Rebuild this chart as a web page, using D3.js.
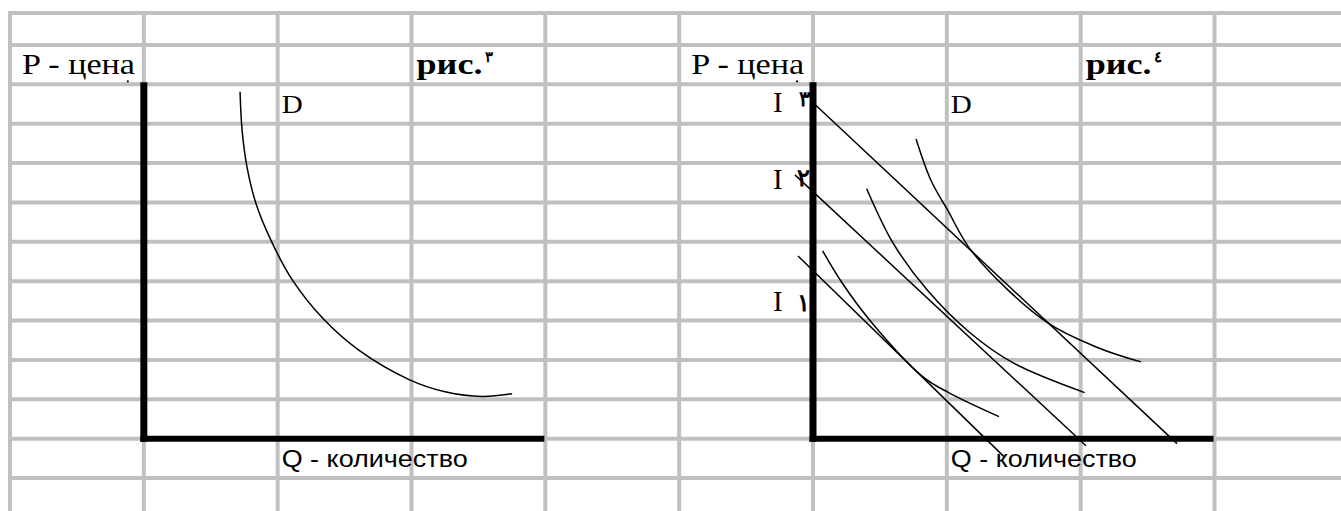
<!DOCTYPE html>
<html>
<head>
<meta charset="utf-8">
<style>
  body { margin: 0; background: #fff; }
  svg { display: block; }
  .serif { font-family: "Liberation Serif", "Times New Roman", serif; }
  .sans { font-family: "Liberation Sans", Arial, sans-serif; }
</style>
</head>
<body>
<svg width="1341" height="511"></svg>
<script src="https://d3js.org/d3.v7.min.js"></script>
<script>
// ---- data (Q in grid columns from the axis, P in grid rows above the axis) ----
const figTitles = ["рис.", "рис."];
const figNumbers = ["٣", "٤"];
const axisLabelP = "P - цена";
const axisLabelQ = "Q - количество";
const curveLabel = "D";
const incomeNames = ["I", "I", "I"];
const incomeDigits = ["١", "٢", "٣"];

// fig. 3: single demand curve
const demandCurve = [[0.719, 8.81], [0.734, 7.84], [0.771, 6.90], [0.839, 5.96], [0.951, 5.03],
  [1.108, 4.04], [1.339, 3.05], [1.601, 2.26], [1.982, 1.50], [2.251, 1.19], [2.528, 1.07], [2.752, 1.14]];

// fig. 4: budget lines I1..I3 and three curves
const budgetLines = [
  [[-0.112, 4.64], [1.427, -0.457]],
  [[-0.135, 6.70], [2.04, -0.18]],
  [[0.011, 8.50], [2.72, -0.127]]
];
const curves4 = [
  [[0.072, 4.77], [0.217, 3.96], [0.441, 2.94], [0.822, 1.57], [1.013, 1.17], [1.39, 0.56]],
  [[0.401, 6.35], [0.598, 4.97], [0.852, 3.78], [1.173, 2.69], [1.493, 1.93], [2.03, 1.17]],
  [[0.77, 7.61], [0.88, 6.57], [1.005, 5.81], [1.195, 4.72], [1.741, 2.97], [2.13, 2.31], [2.45, 1.95]]
];

const W = 1341, H = 511;
const svg = d3.select("svg");

// spreadsheet grid
const colX = d3.scaleLinear().domain([0, 9]).range([10, 1214.5]);
const rowY = d3.scaleLinear().domain([0, 1, 12]).range([13, 45, 478]);

const grid = svg.append("g").attr("stroke", "#c0c0c0").attr("stroke-width", 4);
grid.selectAll(".h").data(d3.range(13)).enter().append("line")
  .attr("x1", 8).attr("x2", W)
  .attr("y1", d => rowY(d)).attr("y2", d => rowY(d));
grid.selectAll(".v").data(d3.range(10)).enter().append("line")
  .attr("x1", d => colX(d)).attr("x2", d => colX(d))
  .attr("y1", 11).attr("y2", H);

const lineGen = (x, y, curve) => d3.line().x(d => x(d[0])).y(d => y(d[1])).curve(curve);

function drawFigure(i, draw) {
  const c0 = i === 0 ? 1 : 6;
  const x = d3.scaleLinear().domain([0, 3]).range([colX(c0), colX(c0 + 3)]);
  const y = d3.scaleLinear().domain([0, 9]).range([rowY(11), rowY(2)]);
  const g = svg.append("g");

  // axes
  g.append("line").attr("x1", x(0)).attr("x2", x(0))
    .attr("y1", y(9) - 2).attr("y2", y(0) + 3)
    .attr("stroke", "#000").attr("stroke-width", 7);
  g.append("line").attr("x1", x(0) - 3.5).attr("x2", x(3) - 1)
    .attr("y1", y(0)).attr("y2", y(0))
    .attr("stroke", "#000").attr("stroke-width", 6);

  // texts
  g.append("text").attr("class", "serif")
    .attr("x", colX(c0 - 1) + 12).attr("y", rowY(2) - 10)
    .attr("font-size", 30)
    .attr("textLength", 113).attr("lengthAdjust", "spacingAndGlyphs")
    .text(axisLabelP);
  g.append("circle").attr("cx", colX(c0) - 16).attr("cy", rowY(2) - 3).attr("r", 1.1).attr("fill", "#000");

  g.append("text").attr("class", "serif")
    .attr("x", colX(c0 + 2) + 5).attr("y", rowY(2) - 10)
    .attr("font-size", 30).attr("font-weight", "bold")
    .attr("textLength", 66).attr("lengthAdjust", "spacingAndGlyphs")
    .text(figTitles[i]);
  g.append("text").attr("class", "serif")
    .attr("x", colX(c0 + 2) + 73).attr("y", rowY(2) - 22)
    .attr("font-size", 15).attr("font-weight", "bold")
    .text(figNumbers[i]);

  g.append("text").attr("class", "serif")
    .attr("x", colX(c0 + 1) + 4).attr("y", rowY(3) - 11)
    .attr("font-size", 26)
    .attr("textLength", 21).attr("lengthAdjust", "spacingAndGlyphs")
    .text(curveLabel);
  g.append("text").attr("class", "sans")
    .attr("x", colX(c0 + 1) + 4).attr("y", rowY(12) - 11)
    .attr("font-size", 23)
    .attr("textLength", 186).attr("lengthAdjust", "spacingAndGlyphs")
    .text(axisLabelQ);

  draw(g, x, y);
}

drawFigure(0, (g, x, y) => {
  g.append("path").attr("d", lineGen(x, y, d3.curveCatmullRom.alpha(0.5))(demandCurve))
    .attr("fill", "none").attr("stroke", "#000").attr("stroke-width", 1.5);
});

drawFigure(1, (g, x, y) => {
  g.selectAll(".budget").data(budgetLines).enter().append("path")
    .attr("d", d => lineGen(x, y, d3.curveLinear)(d))
    .attr("fill", "none").attr("stroke", "#000").attr("stroke-width", 1.5);
  g.selectAll(".curve").data(curves4).enter().append("path")
    .attr("d", d => lineGen(x, y, d3.curveCatmullRom.alpha(0.5))(d))
    .attr("fill", "none").attr("stroke", "#000").attr("stroke-width", 1.5);

  // income labels next to the P axis (baselines by grid row)
  const nameBase = [rowY(8) - 10, rowY(5) - 13, rowY(3) - 12];
  const digitBase = [rowY(8) - 10, rowY(5) - 16, rowY(3) - 18];
  const digitSize = [24, 24, 21];
  incomeNames.forEach((lab, k) => {
    g.append("text").attr("class", "serif")
      .attr("x", x(0) - 40).attr("y", nameBase[k])
      .attr("font-size", 29).text(lab);
    g.append("text").attr("class", "serif")
      .attr("x", x(0) - 3).attr("y", digitBase[k])
      .attr("text-anchor", "end")
      .attr("font-size", digitSize[k]).attr("font-weight", "bold")
      .text(incomeDigits[k]);
  });
});
</script>
</body>
</html>
